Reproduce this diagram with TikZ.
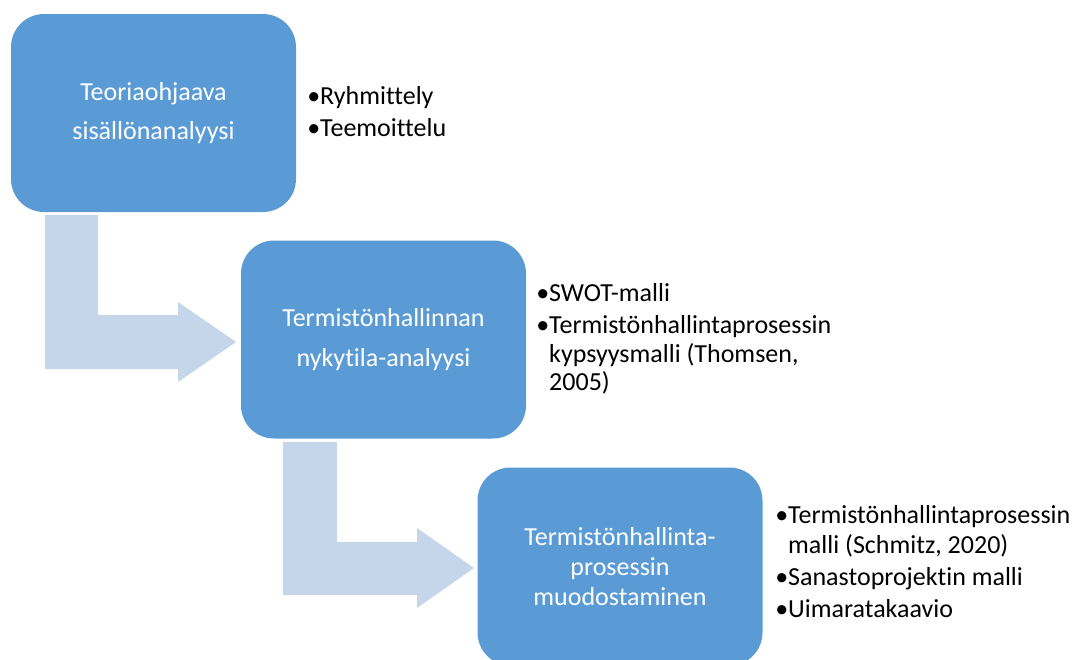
\documentclass[tikz,border=0pt]{standalone}
\usepackage{fontspec}
\setmainfont{Carlito}[Ligatures={NoCommon,NoContextual}]
\usetikzlibrary{calc}
\definecolor{boxblue}{HTML}{5B9BD5}
\definecolor{arrowblue}{HTML}{C5D5EA}
\begin{document}
\begin{tikzpicture}[x=1pt,y=-1pt,
  procbox/.style={fill=boxblue, rounded corners=33pt, minimum width=285pt,
    minimum height=198pt, inner sep=0pt, text=white, align=center,
    font=\fontsize{26}{39.5}\selectfont},
  bentarrow/.style={fill=arrowblue},
  bulletitem/.style={anchor=base west, inner sep=0pt, text=black,
    font=\fontsize{26}{30}\selectfont}]
\useasboundingbox (0,0) rectangle (1083,659);
\begin{scope}
\clip (0,0) rectangle (1083,659);
% bent arrows
\fill[bentarrow] (45,215) -- (98,215) -- (98,315) -- (178,315) -- (178,302)
  -- (236,342) -- (178,382) -- (178,369) -- (45,369) -- cycle;
\fill[bentarrow] (283,442) -- (337,442) -- (337,542) -- (417,542) -- (417,528)
  -- (474,568) -- (417,608) -- (417,595) -- (283,595) -- cycle;
% process boxes
\node[procbox] (box1) at (153.5,113) {Teoriaohjaava\\sisällönanalyysi};
\node[procbox] (box2) at (383.5,339.5) {Termistönhallinnan\\nykytila-analyysi};
\node[procbox, font=\fontsize{26}{30}\selectfont] (box3) at (620,566.5)
  {Termistönhallinta-\\prosessin\\muodostaminen};
\end{scope}
% bullet lists
\node[bulletitem] (b1a) at (320,104.3) {\llap{•}Ryhmittely};
\node[bulletitem] (b1b) at (320,136.7) {\llap{•}Teemoittelu};
\node[bulletitem] (b2a) at (549,301) {\llap{•}SWOT-malli};
\node[bulletitem] (b2b) at (549,333.3) {\llap{•}Termistönhallintaprosessin};
\node[bulletitem] (b2c) at (549,362.3) {kypsyysmalli (Thomsen,};
\node[bulletitem] (b2d) at (549,390) {2005)};
\node[bulletitem] (b3a) at (788,523) {\llap{•}Termistönhallintaprosessin};
\node[bulletitem] (b3b) at (788,553) {malli (Schmitz, 2020)};
\node[bulletitem] (b3c) at (788,585) {\llap{•}Sanastoprojektin malli};
\node[bulletitem] (b3d) at (788,617) {\llap{•}Uimaratakaavio};
\end{tikzpicture}
\end{document}
